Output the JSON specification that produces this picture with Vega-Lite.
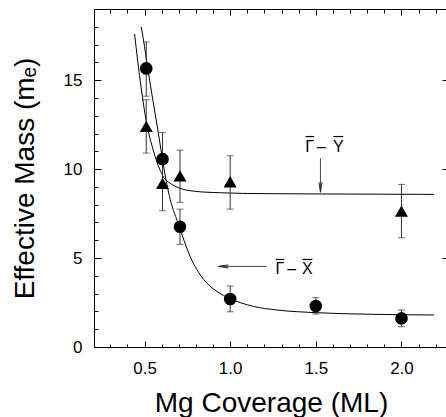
{
  "$schema": "https://vega.github.io/schema/vega-lite/v6.json",
  "width": 352,
  "height": 338,
  "autosize": "none",
  "padding": {"left": 94, "top": 9, "right": 0, "bottom": 70},
  "background": "white",
  "config": {"view": {"stroke": null}, "font": "Liberation Sans"},
  "datasets": {
    "pts": [
      {"x": 0.51, "y": 15.66, "lo": 14.1, "hi": 17.15, "s": "GX"},
      {"x": 0.605, "y": 10.56, "lo": 9.06, "hi": 12.06, "s": "GX"},
      {"x": 0.707, "y": 6.76, "lo": 5.77, "hi": 7.75, "s": "GX"},
      {"x": 1.0, "y": 2.7, "lo": 1.98, "hi": 3.43, "s": "GX"},
      {"x": 1.5, "y": 2.3, "lo": 1.85, "hi": 2.77, "s": "GX"},
      {"x": 2.0, "y": 1.61, "lo": 1.14, "hi": 2.08, "s": "GX"},
      {"x": 0.51, "y": 12.4, "lo": 10.9, "hi": 13.9, "s": "GY"},
      {"x": 0.605, "y": 9.2, "lo": 7.66, "hi": 10.7, "s": "GY"},
      {"x": 0.707, "y": 9.62, "lo": 8.13, "hi": 11.07, "s": "GY"},
      {"x": 1.0, "y": 9.29, "lo": 7.75, "hi": 10.75, "s": "GY"},
      {"x": 2.0, "y": 7.64, "lo": 6.14, "hi": 9.14, "s": "GY"}
    ],
    "curves": [
      {"x": 0.481, "y": 18.0, "s": "GX"},
      {"x": 0.5, "y": 16.9, "s": "GX"},
      {"x": 0.52, "y": 15.6, "s": "GX"},
      {"x": 0.55, "y": 13.8, "s": "GX"},
      {"x": 0.576, "y": 12.3, "s": "GX"},
      {"x": 0.6, "y": 10.85, "s": "GX"},
      {"x": 0.627, "y": 9.3, "s": "GX"},
      {"x": 0.65, "y": 8.3, "s": "GX"},
      {"x": 0.7, "y": 6.85, "s": "GX"},
      {"x": 0.767, "y": 5.07, "s": "GX"},
      {"x": 0.845, "y": 3.8, "s": "GX"},
      {"x": 0.923, "y": 3.12, "s": "GX"},
      {"x": 1.0, "y": 2.72, "s": "GX"},
      {"x": 1.137, "y": 2.28, "s": "GX"},
      {"x": 1.273, "y": 2.08, "s": "GX"},
      {"x": 1.5, "y": 1.93, "s": "GX"},
      {"x": 1.818, "y": 1.84, "s": "GX"},
      {"x": 2.19, "y": 1.8, "s": "GX"},
      {"x": 0.442, "y": 17.6, "s": "GY"},
      {"x": 0.46, "y": 16.1, "s": "GY"},
      {"x": 0.48, "y": 14.6, "s": "GY"},
      {"x": 0.51, "y": 12.7, "s": "GY"},
      {"x": 0.553, "y": 11.0, "s": "GY"},
      {"x": 0.588, "y": 10.0, "s": "GY"},
      {"x": 0.611, "y": 9.55, "s": "GY"},
      {"x": 0.65, "y": 9.2, "s": "GY"},
      {"x": 0.708, "y": 8.92, "s": "GY"},
      {"x": 0.786, "y": 8.76, "s": "GY"},
      {"x": 0.942, "y": 8.67, "s": "GY"},
      {"x": 1.2, "y": 8.62, "s": "GY"},
      {"x": 1.6, "y": 8.6, "s": "GY"},
      {"x": 2.19, "y": 8.58, "s": "GY"}
    ],
    "glyphs": [
      {"x": 1.464, "y": 10.98, "t": "\u0393"},
      {"x": 1.533, "y": 10.98, "t": "\u2013"},
      {"x": 1.631, "y": 10.98, "t": "Y"},
      {"x": 1.291, "y": 4.1, "t": "\u0393"},
      {"x": 1.359, "y": 4.1, "t": "\u2013"},
      {"x": 1.451, "y": 4.1, "t": "X"}
    ],
    "bars": [
      {"x": 1.44, "x2": 1.49, "y": 11.83},
      {"x": 1.603, "x2": 1.66, "y": 11.83},
      {"x": 1.266, "x2": 1.316, "y": 4.92},
      {"x": 1.422, "x2": 1.48, "y": 4.92}
    ],
    "shafts": [
      {"x": 1.527, "y": 10.61, "x2": 1.527, "y2": 8.75},
      {"x": 1.213, "y": 4.53, "x2": 0.935, "y2": 4.53}
    ],
    "heads": [
      {"x": 1.527, "y": 8.98, "a": 0},
      {"x": 0.96, "y": 4.53, "a": 90}
    ]
  },
  "resolve": {"axis": {"x": "independent", "y": "independent"}},
  "layer": [
    {
      "data": {"name": "curves"},
      "mark": {"type": "line", "color": "black", "strokeWidth": 1, "interpolate": "monotone"},
      "encoding": {
        "x": {"field": "x", "type": "quantitative", "scale": {"domain": [0.205, 2.26], "nice": false, "zero": false},
          "axis": {"orient": "bottom", "values": [0.3,0.4,0.5,0.6,0.7,0.8,0.9,1.0,1.1,1.2,1.3,1.4,1.5,1.6,1.7,1.8,1.9,2.0,2.1,2.2],
            "labelExpr": "abs(round(datum.value*10)%5)==0 ? format(datum.value, '.1f') : ''",
            "labelFontSize": 17, "labelFont": "Liberation Sans", "labelColor": "black", "labelPadding": 13, "labelFlush": false, "labelOverlap": false,
            "grid": false, "domain": true, "domainColor": "black", "domainWidth": 1, "ticks": false,
            "title": "Mg Coverage (ML)", "titleFontSize": 28, "titleFont": "Liberation Sans", "titleFontWeight": "normal", "titleColor": "black",
            "titleX": 177, "titleY": 64, "titleBaseline": "alphabetic", "titleAlign": "center"}},
        "y": {"field": "y", "type": "quantitative", "scale": {"domain": [0, 19], "nice": false, "zero": false},
          "axis": {"orient": "left", "values": [0,1,2,3,4,5,6,7,8,9,10,11,12,13,14,15,16,17,18],
            "labelExpr": "datum.value % 5 == 0 ? format(datum.value, 'd') : ''",
            "labelFontSize": 17, "labelFont": "Liberation Sans", "labelColor": "black", "labelPadding": 12, "labelFlush": false, "labelOverlap": false,
            "grid": false, "domain": true, "domainColor": "black", "domainWidth": 1, "ticks": false,
            "title": "Effective Mass (m\u2091)", "titleFontSize": 28, "titleFont": "Liberation Sans", "titleFontWeight": "normal", "titleColor": "black",
            "titleX": -61, "titleY": 169, "titleAngle": -90, "titleBaseline": "alphabetic", "titleAlign": "center"}},
        "detail": {"field": "s"},
        "order": {"field": "x", "type": "quantitative"}
      }
    },
    {
      "data": {"name": "pts"},
      "mark": {"type": "rule", "color": "#333", "strokeWidth": 1},
      "encoding": {
        "x": {"field": "x", "type": "quantitative",
          "axis": {"orient": "bottom", "values": [0.5, 1.0, 1.5, 2.0], "labels": false, "title": null, "grid": false, "domain": false, "ticks": true, "tickColor": "black", "tickWidth": 1, "tickSize": -6}},
        "y": {"field": "lo", "type": "quantitative",
          "axis": {"orient": "left", "values": [0, 5, 10, 15], "labels": false, "title": null, "grid": false, "domain": false, "ticks": true, "tickColor": "black", "tickWidth": 1, "tickSize": -7}},
        "y2": {"field": "hi"}
      }
    },
    {
      "data": {"name": "pts"},
      "mark": {"type": "tick", "orient": "horizontal", "color": "#333", "size": 7, "thickness": 1},
      "encoding": {
        "x": {"field": "x", "type": "quantitative",
          "axis": {"orient": "bottom", "values": [0.3,0.4,0.6,0.7,0.8,0.9,1.1,1.2,1.3,1.4,1.6,1.7,1.8,1.9,2.1,2.2], "labels": false, "title": null, "grid": false, "domain": false, "ticks": true, "tickColor": "black", "tickWidth": 1, "tickSize": -3}},
        "y": {"field": "lo", "type": "quantitative",
          "axis": {"orient": "left", "values": [1,2,3,4,6,7,8,9,11,12,13,14,16,17,18], "labels": false, "title": null, "grid": false, "domain": false, "ticks": true, "tickColor": "black", "tickWidth": 1, "tickSize": -4}}
      }
    },
    {
      "data": {"name": "pts"},
      "mark": {"type": "tick", "orient": "horizontal", "color": "#333", "size": 7, "thickness": 1},
      "encoding": {
        "x": {"field": "x", "type": "quantitative",
          "axis": {"orient": "top", "values": [0.5, 1.0, 1.5, 2.0], "labels": false, "title": null, "grid": false, "domain": true, "domainColor": "black", "domainWidth": 1, "ticks": true, "tickColor": "black", "tickWidth": 1, "tickSize": -6}},
        "y": {"field": "hi", "type": "quantitative",
          "axis": {"orient": "right", "values": [0, 5, 10, 15], "labels": false, "title": null, "grid": false, "domain": false, "ticks": true, "tickColor": "black", "tickWidth": 1, "tickSize": -4}}
      }
    },
    {
      "data": {"name": "pts"},
      "mark": {"type": "point", "filled": true, "color": "black", "opacity": 1},
      "encoding": {
        "x": {"field": "x", "type": "quantitative",
          "axis": {"orient": "top", "values": [0.3,0.4,0.6,0.7,0.8,0.9,1.1,1.2,1.3,1.4,1.6,1.7,1.8,1.9,2.1,2.2], "labels": false, "title": null, "grid": false, "domain": false, "ticks": true, "tickColor": "black", "tickWidth": 1, "tickSize": -4}},
        "y": {"field": "y", "type": "quantitative", "axis": null},
        "shape": {"field": "s", "type": "nominal", "scale": {"domain": ["GX", "GY"], "range": ["circle", "triangle-up"]}, "legend": null},
        "size": {"field": "s", "type": "nominal", "scale": {"domain": ["GX", "GY"], "range": [160, 170]}, "legend": null}
      }
    },
    {
      "data": {"name": "shafts"},
      "mark": {"type": "rule", "color": "#444", "strokeWidth": 1},
      "encoding": {
        "x": {"field": "x", "type": "quantitative", "axis": null},
        "y": {"field": "y", "type": "quantitative", "axis": null},
        "x2": {"field": "x2"},
        "y2": {"field": "y2"}
      }
    },
    {
      "data": {"name": "bars"},
      "mark": {"type": "rule", "color": "black", "strokeWidth": 1.2},
      "encoding": {
        "x": {"field": "x", "type": "quantitative", "axis": null},
        "x2": {"field": "x2"},
        "y": {"field": "y", "type": "quantitative", "axis": null}
      }
    },
    {
      "data": {"name": "heads"},
      "mark": {"type": "point", "shape": "M -0.3 -1 L 0 1 L 0.3 -1", "filled": false, "color": "#222", "strokeWidth": 1, "size": 100, "opacity": 1},
      "encoding": {
        "x": {"field": "x", "type": "quantitative", "axis": null},
        "y": {"field": "y", "type": "quantitative", "axis": null},
        "angle": {"field": "a", "type": "quantitative", "scale": null}
      }
    },
    {
      "data": {"name": "glyphs"},
      "mark": {"type": "text", "font": "Liberation Sans", "fontSize": 16, "color": "black", "align": "center", "baseline": "alphabetic"},
      "encoding": {
        "x": {"field": "x", "type": "quantitative", "axis": null},
        "y": {"field": "y", "type": "quantitative", "axis": null},
        "text": {"field": "t"}
      }
    }
  ]
}
